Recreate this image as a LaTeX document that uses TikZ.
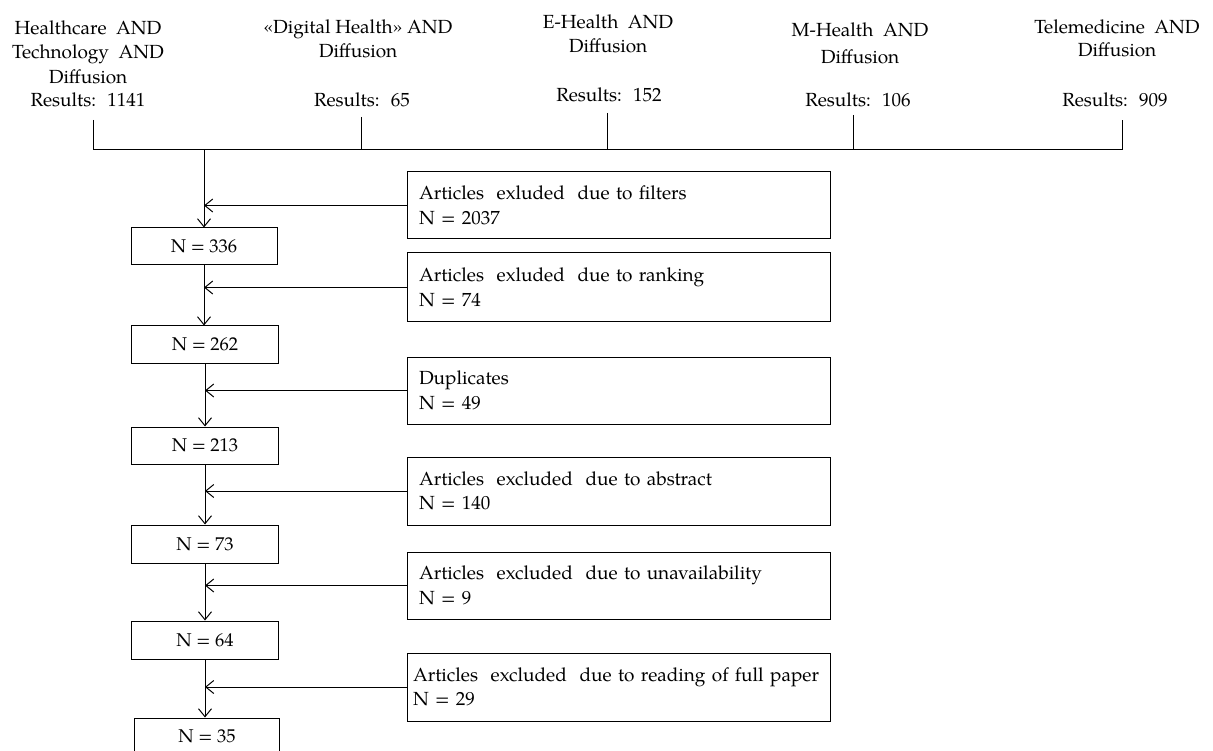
\documentclass[tikz,border=0pt]{standalone}
\usepackage{fontspec}
\setmainfont{TeX Gyre Pagella}
\usetikzlibrary{arrows.meta}
\begin{document}
\begin{tikzpicture}[x=1pt,y=-1pt,
  font=\fontsize{19}{24.5}\selectfont,
  line width=1pt,
  qlabel/.style={anchor=north, align=center, inner sep=0pt},
  result/.style={anchor=base, inner sep=0pt},
  nbox/.style={draw, minimum width=147pt, minimum height=37pt, inner sep=0pt,
               font=\fontsize{18.5}{22}\selectfont},
  rbox/.style={draw, minimum width=423pt, minimum height=67pt, text width=399pt,
               inner xsep=12pt, inner ysep=0pt, align=left},
  arr/.style={-{Straight Barb[length=8pt,width=13pt]}}
]
\useasboundingbox (0,0) rectangle (1213,751);

% search strings
\node[qlabel] (q1) at (88,20)  {Healthcare~ AND\\Technology~ AND\\Diffusion};
\node[qlabel] (q2) at (358,19) {«Digital Health» AND\\Diffusion};
\node[qlabel] (q3) at (608,14) {E-Health~ AND\\Diffusion};
\node[qlabel, font=\fontsize{19}{27}\selectfont] (q4) at (860,22) {M-Health~ AND\\Diffusion};
\node[qlabel, font=\fontsize{19}{23}\selectfont] (q5) at (1117,19) {Telemedicine~ AND\\Diffusion};

\node[result] (r1) at (88,107)   {Results:~ 1141};
\node[result] (r2) at (362,107)  {Results:~ 65};
\node[result] (r3) at (609,102)  {Results:~ 152};
\node[result] (r4) at (858,107)  {Results:~ 106};
\node[result] (r5) at (1115,107) {Results:~ 909};

% collecting bracket
\coordinate (t1) at (93,120);   \coordinate (j1) at (93,150);
\coordinate (t2) at (361,117);  \coordinate (j2) at (361,150);
\coordinate (t3) at (607,113);  \coordinate (j3) at (607,150);
\coordinate (t4) at (853,115);  \coordinate (j4) at (853,150);
\coordinate (t5) at (1122,120); \coordinate (j5) at (1122,150);
\coordinate (s)  at (204,150);
\draw (t1) -- (j1) -- (j5) -- (t5);
\draw (t2) -- (j2);
\draw (t3) -- (j3);
\draw (t4) -- (j4);

% main flow
\node[nbox, minimum width=146pt] (n336) at (204,246.5) {N = 336};
\node[nbox] (n262) at (205,344.5) {N = 262};
\node[nbox] (n213) at (205,445.5) {N = 213};
\node[nbox, minimum height=38pt] (n73) at (205,544) {N = 73};
\node[nbox, minimum height=38pt] (n64) at (205,640) {N = 64};
\node[nbox, minimum width=145pt] (n35) at (207,736.5) {N = 35};

% exclusions
\node[rbox] (x1) at (618.5,205.5) {Articles~ exluded~ due to filters\\N = 2037};
\node[rbox, minimum height=69pt] (x2) at (618.5,287.5) {Articles~ exluded~ due to ranking\\N = 74};
\node[rbox] (x3) at (618.5,390.5) {Duplicates\\N = 49};
\node[rbox, minimum height=68pt] (x4) at (618.5,491) {Articles~ excluded~ due to abstract\\N = 140};
\node[rbox] (x5) at (618.5,585.5) {Articles~ excluded~ due to unavailability\\N = 9};
\node[rbox, minimum height=68pt, inner xsep=6pt, text width=411pt] (x6) at (618.5,687)
  {Articles~ excluded~ due to reading of full paper\\N = 29};

% connectors
\draw[arr] (s) -- (s |- n336.north);
\draw[arr] (x1.west) -- (x1.west -| s);
\draw[arr] (n336.south) -- (n336.south |- n262.north);
\draw[arr] (x2.west) -- (x2.west -| n336.south);
\draw[arr] (n262.south) -- (n262.south |- n213.north);
\draw[arr] (x3.west) -- (x3.west -| n262.south);
\draw[arr] (n213.south) -- (n213.south |- n73.north);
\draw[arr] (x4.west) -- (x4.west -| n213.south);
\draw[arr] (n73.south) -- (n73.south |- n64.north);
\draw[arr] (x5.west) -- (x5.west -| n73.south);
\draw[arr] (n64.south) -- (n64.south |- n35.north);
\draw[arr] (x6.west) -- (x6.west -| n64.south);
\end{tikzpicture}
\end{document}
